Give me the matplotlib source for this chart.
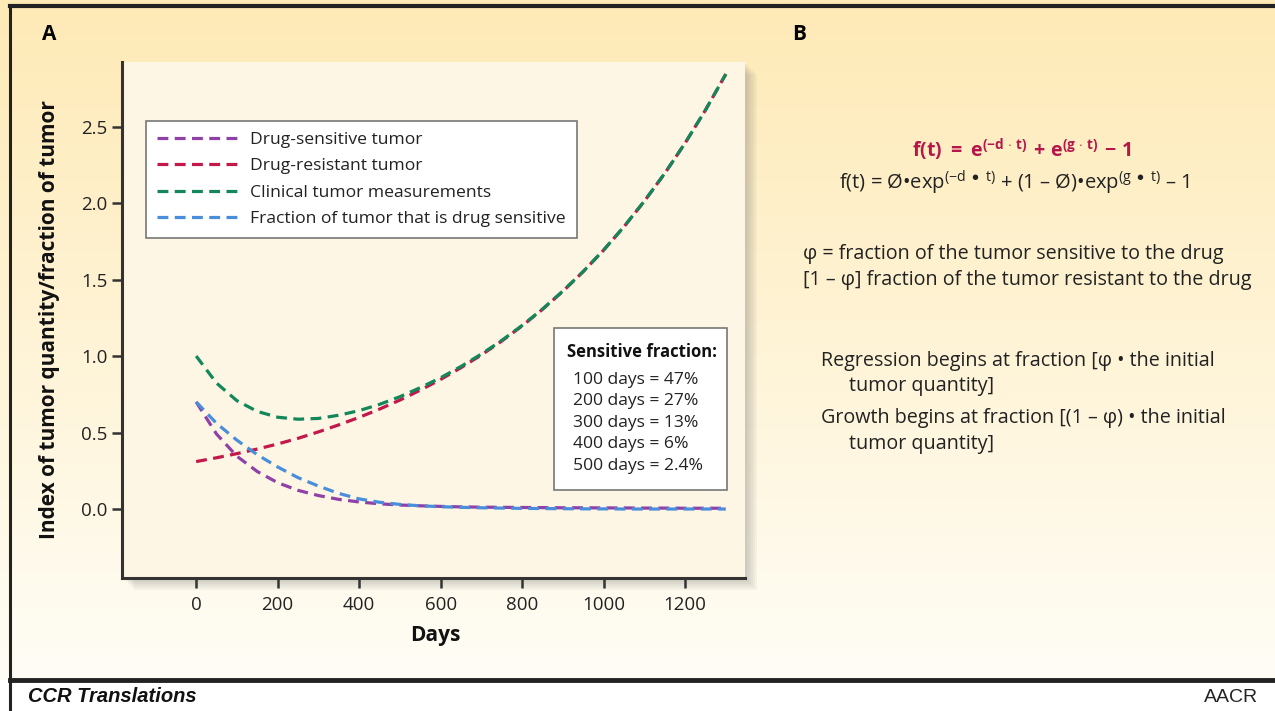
import matplotlib
matplotlib.use("Agg")
import matplotlib.pyplot as plt
import numpy as np
from matplotlib.lines import Line2D
from matplotlib.patches import Rectangle

# valeurs
days = [0, 50, 100, 150, 200, 250, 300, 350, 400, 450, 500, 550, 600, 650,
        700, 750, 800, 850, 900, 950, 1000, 1050, 1100, 1150, 1200, 1250, 1300]
sensitive = [0.700, 0.490, 0.345, 0.245, 0.172, 0.122, 0.088, 0.063, 0.046, 0.034,
             0.026, 0.021, 0.017, 0.014, 0.012, 0.011, 0.010, 0.009, 0.008, 0.008,
             0.007, 0.007, 0.006, 0.006, 0.005, 0.005, 0.005]
resistant = [0.310, 0.335, 0.362, 0.392, 0.425, 0.462, 0.504, 0.550, 0.599, 0.653,
             0.712, 0.777, 0.847, 0.924, 1.007, 1.098, 1.197, 1.305, 1.423, 1.552,
             1.692, 1.845, 2.012, 2.194, 2.392, 2.608, 2.843]
clinical = [1.000, 0.823, 0.708, 0.638, 0.600, 0.587, 0.592, 0.613, 0.643, 0.684,
            0.734, 0.793, 0.858, 0.932, 1.013, 1.102, 1.200, 1.307, 1.425, 1.553,
            1.693, 1.846, 2.013, 2.194, 2.392, 2.608, 2.843]
fraction = [0.700, 0.560, 0.450, 0.355, 0.275, 0.205, 0.150, 0.102, 0.066, 0.044,
            0.030, 0.021, 0.015, 0.011, 0.008, 0.006, 0.004, 0.003, 0.002, 0.001,
            0.001, 0.000, 0.000, 0.000, 0.000, 0.000, 0.000]

series_labels = ["Drug-sensitive tumor", "Drug-resistant tumor",
                 "Clinical tumor measurements", "Fraction of tumor that is drug sensitive"]
series_colors = ["#9041A8", "#C2184A", "#13875A", "#4A8EDB"]

frac_title = "Sensitive fraction:"
frac_lines = ["100 days = 47%", "200 days = 27%", "300 days = 13%",
              "400 days = 6%", "500 days = 2.4%"]

plt.rcParams["font.family"] = ["Open Sans", "DejaVu Sans"]
plt.rcParams["mathtext.fontset"] = "custom"
plt.rcParams["mathtext.rm"] = "Open Sans"
plt.rcParams["mathtext.bf"] = "Open Sans:bold"
plt.rcParams["mathtext.it"] = "Open Sans:italic"

W, H = 1275, 711
fig = plt.figure(figsize=(W / 100, H / 100), dpi=100, facecolor="white")

def fx(px):
    return px / W

def fy(py):
    return 1 - py / H

# fond dégradé jaune -> blanc
bg = fig.add_axes([0, fy(680), 1, 1 - fy(680)], zorder=-10)
grad = np.linspace(0, 1, 256).reshape(-1, 1)
top = np.array([254, 234, 182]) / 255
bot = np.array([255, 253, 246]) / 255
img = top[None, None, :] * (1 - grad[..., None]) + bot[None, None, :] * grad[..., None]
bg.imshow(img, aspect="auto", extent=[0, 1, 0, 1])
bg.set_axis_off()

# cadre
for x0, y0, x1, y1, lw in [(10, 6, W, 6, 3), (10, 6, 10, H, 2.2), (10, 680, W, 680, 3.5)]:
    fig.add_artist(Line2D([fx(x0), fx(x1)], [fy(y0), fy(y1)], color="#222222",
                          lw=lw, transform=fig.transFigure))

# ombre sous le graphique
for i in range(6):
    off = 2 + i * 2
    fig.add_artist(Rectangle((fx(122 + off), fy(578 + off)), fx(745 - 122), fy(62 + off) - fy(578 + off),
                             transform=fig.transFigure, facecolor="#555555", alpha=0.05,
                             edgecolor="none", zorder=-5))

ax = fig.add_axes([fx(122), fy(578), fx(745 - 122), fy(62) - fy(578)])
ax.set_facecolor("#FDF6E4")
ax.set_xlim(-182, 1347)
ax.set_ylim(-0.451, 2.922)

handles = {}
order = [1, 2, 0, 3]
data = [sensitive, resistant, clinical, fraction]
for i in order:
    ln, = ax.plot(days, data[i], color=series_colors[i], lw=2.3,
                  dashes=(3.4, 2.0), label=series_labels[i])
    handles[i] = ln

for s in ["top", "right"]:
    ax.spines[s].set_visible(False)
for s in ["left", "bottom"]:
    ax.spines[s].set_color("#333333")
    ax.spines[s].set_linewidth(2.2)

ax.set_xticks([0, 200, 400, 600, 800, 1000, 1200])
ax.set_yticks([0.0, 0.5, 1.0, 1.5, 2.0, 2.5])
ax.set_yticklabels(["0.0", "0.5", "1.0", "1.5", "2.0", "2.5"])
ax.tick_params(axis="both", direction="out", length=7, width=1.8, color="#333333",
               labelsize=13.5, labelcolor="#222222")
ax.tick_params(axis="x", pad=6)

fig.text(fx(50), fy(320), "Index of tumor quantity/fraction of tumor", rotation=90,
         ha="center", va="center", fontsize=15, fontweight="bold", color="#111111")
fig.text(fx(435), fy(636), "Days", ha="center", va="center", fontsize=15,
         fontweight="bold", color="#111111")

leg = ax.legend([handles[i] for i in range(4)], series_labels,
                loc="upper left", bbox_to_anchor=((146 - 122) / (745 - 122), 1 - (121 - 62) / (578 - 62)),
                fontsize=12.6, handlelength=4.8, handletextpad=0.55, labelspacing=0.58,
                borderpad=0.62, fancybox=False, framealpha=1, edgecolor="#777777",
                facecolor="white", borderaxespad=0)
leg.get_frame().set_linewidth(1.2)
for t in leg.get_texts():
    t.set_color("#222222")

# encadré fraction sensible
fig.add_artist(Rectangle((fx(554), fy(490)), fx(727 - 554), fy(328) - fy(490),
                         transform=fig.transFigure, facecolor="white",
                         edgecolor="#777777", lw=1.2, zorder=5))
fig.text(fx(567), fy(352), frac_title, ha="left", va="center", fontsize=12,
         fontweight="bold", color="#111111", zorder=6)
for k, s in enumerate(frac_lines):
    fig.text(fx(573), fy(380 + k * 21.5), s, ha="left", va="center", fontsize=12.6,
             color="#222222", zorder=6)

# panneau B
fig.text(fx(42), fy(34), "A", ha="left", va="center", fontsize=15, fontweight="bold")
fig.text(fx(792), fy(34), "B", ha="left", va="center", fontsize=15, fontweight="bold")

fig.text(fx(1022), fy(150),
         r"$\mathbf{f(t)\ =\ e^{(-d\,\cdot\,t)}\,+\,e^{(g\,\cdot\,t)}\,-\,1}$",
         ha="center", va="center", fontsize=14, color="#B5174A")
fig.text(fx(1014), fy(183),
         r"f(t) = Ø•exp$^{\mathrm{(-d\ \bullet\ t)}}$ + (1 – Ø)•exp$^{\mathrm{(g\ \bullet\ t)}}$ – 1",
         ha="center", va="center", fontsize=14.5, color="#222222")

txt = dict(ha="left", va="center", fontsize=14.2, color="#222222")
fig.text(fx(803), fy(254), "φ = fraction of the tumor sensitive to the drug", **txt)
fig.text(fx(803), fy(280), "[1 – φ] fraction of the tumor resistant to the drug", **txt)
fig.text(fx(821), fy(361), "Regression begins at fraction [φ • the initial", **txt)
fig.text(fx(849), fy(386), "tumor quantity]", **txt)
fig.text(fx(821), fy(418), "Growth begins at fraction [(1 – φ) • the initial", **txt)
fig.text(fx(849), fy(444), "tumor quantity]", **txt)

# pied de page
fig.text(fx(28), fy(697), "CCR Translations", ha="left", va="center", fontsize=14.5,
         fontweight="bold", fontstyle="italic", family=["Liberation Sans", "DejaVu Sans"],
         color="#111111")
fig.text(fx(1258), fy(697), "AACR", ha="right", va="center", fontsize=14,
         family=["Liberation Sans Narrow", "Liberation Sans", "DejaVu Sans"], color="#222222")

fig.savefig("out.png", dpi=100, facecolor="white")
